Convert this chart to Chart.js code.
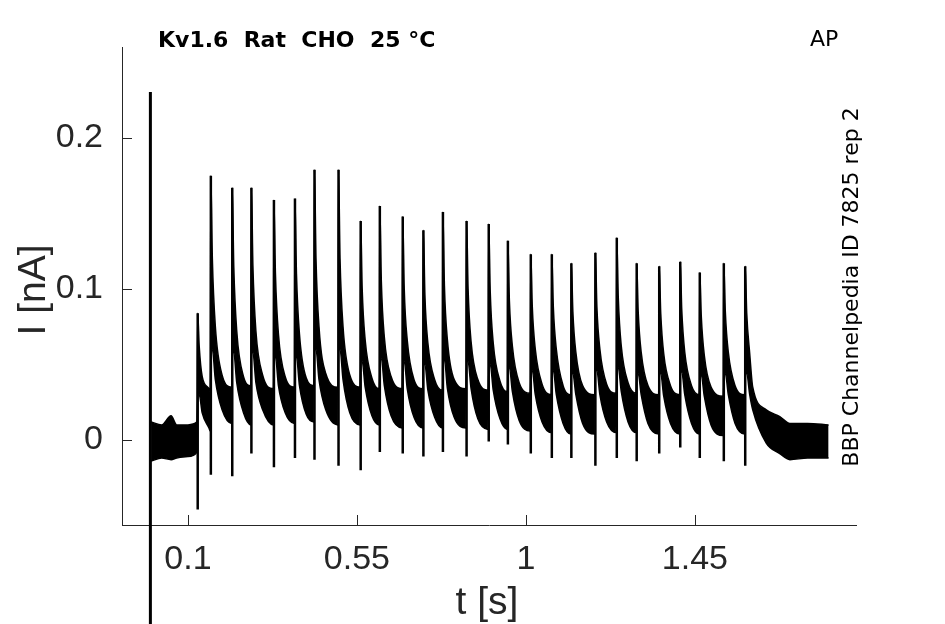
<!DOCTYPE html>
<html>
<head>
<meta charset="utf-8">
<script src="https://cdn.jsdelivr.net/npm/chart.js@4.4.1/dist/chart.umd.min.js"></script>
<style>
  html, body { margin: 0; padding: 0; background: #fff; }
  #wrap { width: 945px; height: 624px; }
</style>
</head>
<body>
<div id="wrap"><canvas id="trace" width="945" height="624"></canvas></div>
<script>
// tick labels on the axes
const xTicks = [0.1, 0.55, 1, 1.45];
const yTicks = [0, 0.1, 0.2];

// stimulus artifact at t = 0 (goes below the axes)
const artT = 0;
const artTop = 0.2305;
const artBottom = -0.14;

// spikes: time [s], peak and trough [nA]
const spikeT = [0.126, 0.161, 0.218, 0.269, 0.329, 0.385, 0.437, 0.501, 0.560, 0.611,
  0.672, 0.727, 0.779, 0.842, 0.901, 0.952, 1.013, 1.069, 1.121, 1.185,
  1.242, 1.295, 1.355, 1.411, 1.463, 1.527, 1.584];
const spikePeak = [0.084, 0.175, 0.167, 0.167, 0.159, 0.160, 0.179, 0.179, 0.145, 0.155,
  0.148, 0.139, 0.151, 0.145, 0.143, 0.132, 0.123, 0.123, 0.117, 0.124,
  0.134, 0.117, 0.115, 0.118, 0.111, 0.117, 0.115];
const spikeTrough = [-0.046, -0.023, -0.024, -0.009, -0.018, -0.012, -0.013, -0.017, -0.020, -0.008,
  -0.009, -0.011, -0.008, -0.011, -0.001, -0.003, -0.009, -0.012, -0.012, -0.017,
  -0.012, -0.014, -0.009, -0.005, -0.012, -0.014, -0.017];

// noisy band right after each spike (upper / lower edge), ~4 ms and ~12 ms later
const hiA = [0.062, 0.120, 0.115, 0.115, 0.110, 0.110, 0.120, 0.120, 0.100, 0.105,
  0.100, 0.096, 0.102, 0.100, 0.098, 0.092, 0.088, 0.088, 0.085, 0.088,
  0.094, 0.085, 0.084, 0.086, 0.082, 0.085, 0.084];
const loA = [0.030, 0.060, 0.058, 0.058, 0.055, 0.055, 0.060, 0.060, 0.052, 0.054,
  0.052, 0.050, 0.053, 0.052, 0.050, 0.048, 0.046, 0.046, 0.044, 0.046,
  0.048, 0.044, 0.044, 0.045, 0.043, 0.044, 0.044];
const hiB = [0.042, 0.075, 0.072, 0.072, 0.070, 0.070, 0.075, 0.075, 0.066, 0.068,
  0.066, 0.064, 0.066, 0.065, 0.064, 0.062, 0.060, 0.060, 0.058, 0.060,
  0.062, 0.058, 0.057, 0.058, 0.056, 0.058, 0.057];
const loB = [0.018, 0.040, 0.038, 0.038, 0.036, 0.036, 0.040, 0.040, 0.035, 0.036,
  0.034, 0.033, 0.034, 0.034, 0.033, 0.032, 0.030, 0.030, 0.030, 0.030,
  0.032, 0.030, 0.029, 0.030, 0.029, 0.030, 0.030];
// ~30 ms after the spike and just before the next one (26 intervals)
const hiC = [0.034, 0.043, 0.042, 0.043, 0.042, 0.041, 0.044, 0.043, 0.041, 0.042,
  0.040, 0.040, 0.040, 0.040, 0.039, 0.038, 0.037, 0.036, 0.036, 0.037,
  0.038, 0.036, 0.036, 0.036, 0.035, 0.036];
const loC = [0.008, 0.020, 0.018, 0.020, 0.018, 0.017, 0.020, 0.018, 0.016, 0.016,
  0.015, 0.015, 0.015, 0.014, 0.014, 0.013, 0.012, 0.011, 0.011, 0.012,
  0.012, 0.011, 0.011, 0.011, 0.010, 0.011];
const hiD = [0.032, 0.035, 0.036, 0.034, 0.035, 0.036, 0.035, 0.035, 0.034, 0.034,
  0.034, 0.033, 0.034, 0.033, 0.032, 0.031, 0.030, 0.030, 0.030, 0.031,
  0.031, 0.030, 0.030, 0.030, 0.029, 0.030];
const loD = [0.006, 0.011, 0.010, 0.010, 0.011, 0.012, 0.010, 0.010, 0.010, 0.008,
  0.008, 0.008, 0.008, 0.007, 0.007, 0.006, 0.005, 0.004, 0.004, 0.005,
  0.005, 0.004, 0.004, 0.004, 0.003, 0.004];

// baseline before the first spike and the tail after the last one
const baseT = [0.002, 0.03, 0.055, 0.07, 0.1, 0.124];
const baseHi = [0.012, 0.010, 0.016, 0.010, 0.010, 0.012];
const baseLo = [-0.014, -0.012, -0.013, -0.012, -0.011, -0.008];
const tailT = [1.604, 1.640, 1.676, 1.703, 1.750, 1.806];
const tailHi = [0.035, 0.020, 0.0155, 0.011, 0.011, 0.010];
const tailLo = [0.020, -0.002, -0.009, -0.013, -0.012, -0.012];

// build upper/lower edges of the band
const bandHi = [];
const bandLo = [];
function addBand(t, hi, lo) {
  bandHi.push({ x: t, y: hi });
  bandLo.push({ x: t, y: lo });
}
baseT.forEach((t, i) => addBand(t, baseHi[i], baseLo[i]));
spikeT.forEach((t, i) => {
  addBand(t, spikePeak[i], loA[i]);
  addBand(t + 0.004, hiA[i], loA[i]);
  addBand(t + 0.012, hiB[i], loB[i]);
  if (i < spikeT.length - 1) {
    addBand(t + 0.03, hiC[i], loC[i]);
    addBand(spikeT[i + 1] - 0.0015, hiD[i], loD[i]);
  }
});
tailT.forEach((t, i) => addBand(t, tailHi[i], tailLo[i]));

// vertical spike strokes, separated with gaps
const spikeLines = [];
spikeT.forEach((t, i) => {
  spikeLines.push({ x: t, y: spikeTrough[i] });
  spikeLines.push({ x: t, y: spikePeak[i] });
  spikeLines.push({ x: t, y: null });
});

const artifact = [{ x: artT, y: artBottom }, { x: artT, y: artTop }];

const axisColor = '#262626';

// inward tick marks + the texts around the plot
const decoPlugin = {
  id: 'deco',
  afterDraw(chart) {
    const ctx = chart.ctx;
    const a = chart.chartArea;
    const xs = chart.scales.x;
    const ys = chart.scales.y;
    ctx.save();
    ctx.strokeStyle = axisColor;
    ctx.lineWidth = 1;
    xTicks.forEach(v => {
      const px = Math.round(xs.getPixelForValue(v)) + 0.5;
      ctx.beginPath();
      ctx.moveTo(px, a.bottom);
      ctx.lineTo(px, a.bottom - 10);
      ctx.stroke();
    });
    yTicks.forEach(v => {
      const py = Math.round(ys.getPixelForValue(v)) + 0.5;
      ctx.beginPath();
      ctx.moveTo(a.left, py);
      ctx.lineTo(a.left + 10, py);
      ctx.stroke();
    });

    // title and corner labels
    ctx.fillStyle = '#000';
    ctx.textBaseline = 'alphabetic';
    ctx.textAlign = 'left';
    ctx.font = 'bold 22px "DejaVu Sans"';
    ctx.fillText('Kv1.6  Rat  CHO  25 °C', 158, 47);
    ctx.font = '22px "DejaVu Sans"';
    ctx.fillText('AP', 810, 46);

    // axis titles
    ctx.fillStyle = axisColor;
    ctx.font = '39px "Liberation Sans"';
    ctx.textAlign = 'center';
    ctx.fillText('t [s]', 487, 614);
    ctx.save();
    ctx.translate(45, 290);
    ctx.rotate(-Math.PI / 2);
    ctx.fillText('I [nA]', 0, 0);
    ctx.restore();

    // rotated source text on the right
    ctx.fillStyle = '#000';
    ctx.font = '22px "DejaVu Sans"';
    ctx.save();
    ctx.translate(858, 287);
    ctx.rotate(-Math.PI / 2);
    ctx.fillText('BBP Channelpedia ID 7825 rep 2', 0, 0);
    ctx.restore();
    ctx.restore();
  }
};

new Chart(document.getElementById('trace'), {
  type: 'line',
  data: {
    datasets: [
      {
        label: 'band top',
        data: bandHi,
        borderColor: '#000',
        borderWidth: 1.5,
        pointRadius: 0,
        cubicInterpolationMode: 'monotone',
        fill: false
      },
      {
        label: 'band bottom',
        data: bandLo,
        borderColor: '#000',
        borderWidth: 1.5,
        pointRadius: 0,
        cubicInterpolationMode: 'monotone',
        backgroundColor: '#000',
        fill: '-1'
      },
      {
        label: 'spikes',
        data: spikeLines,
        borderColor: '#000',
        borderWidth: 2.5,
        pointRadius: 0,
        spanGaps: false
      },
      {
        label: 'artifact',
        data: artifact,
        borderColor: '#000',
        borderWidth: 3,
        pointRadius: 0,
        clip: false
      }
    ]
  },
  options: {
    responsive: false,
    animation: false,
    events: [],
    layout: { padding: { left: 0, right: 89, top: 47, bottom: 0 } },
    plugins: {
      legend: { display: false },
      tooltip: { enabled: false },
      title: { display: false }
    },
    scales: {
      x: {
        type: 'linear',
        min: -0.0756,
        max: 1.879,
        afterBuildTicks: s => { s.ticks = xTicks.map(v => ({ value: v })); },
        afterFit: s => { s.height = 99; },
        grid: { drawOnChartArea: false, drawTicks: false },
        border: { display: true, color: axisColor, width: 1 },
        ticks: {
          padding: 14,
          color: axisColor,
          font: { family: 'Liberation Sans', size: 34 },
          maxRotation: 0,
          callback: v => String(v)
        }
      },
      y: {
        type: 'linear',
        min: -0.0563,
        max: 0.2603,
        afterBuildTicks: s => { s.ticks = yTicks.map(v => ({ value: v })); },
        afterFit: s => { s.width = 122; },
        grid: { drawOnChartArea: false, drawTicks: false },
        border: { display: true, color: axisColor, width: 1 },
        ticks: {
          padding: 19,
          color: axisColor,
          font: { family: 'Liberation Sans', size: 34 },
          callback: v => String(v)
        }
      }
    }
  },
  plugins: [decoPlugin]
});
</script>
</body>
</html>
